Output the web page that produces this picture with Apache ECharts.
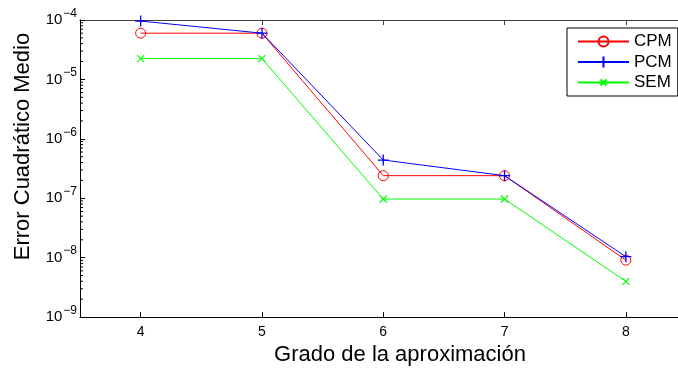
<!DOCTYPE html>
<html>
<head>
<meta charset="utf-8">
<script src="https://cdn.jsdelivr.net/npm/echarts@6/dist/echarts.min.js"></script>
<style>
html,body{margin:0;padding:0;background:#fff;}
#chart{width:678px;height:371px;}
</style>
</head>
<body>
<div id="chart"></div>
<script>
var grados = [4, 5, 6, 7, 8];
var cpm = [6.0e-5, 6.0e-5, 2.4e-7, 2.4e-7, 9.1e-9];
var pcm = [9.6e-5, 6.0e-5, 4.4e-7, 2.4e-7, 1.04e-8];
var sem = [2.24e-5, 2.24e-5, 9.7e-8, 9.7e-8, 4.0e-9];
var xTicks = [4, 5, 6, 7, 8];
var yMinorTicks = [];
for (var e = -9; e < -4; e++) {
  for (var m = 2; m <= 9; m++) yMinorTicks.push(m * Math.pow(10, e));
}

var FONT = "'Liberation Sans', Arial, sans-serif";
var RED = '#ff0000', BLUE = '#0000ff', GREEN = '#00ff00';
var CLEAR = 'rgba(0,0,0,0)';
var ICON_BOX = 'M0,0M51,12';
var ICON_CPM = 'path://' + ICON_BOX + 'M0,6L51,6M20.5,6A5,5,0,0,1,30.5,6A5,5,0,0,1,20.5,6';
var ICON_PCM = 'path://' + ICON_BOX + 'M0,6L51,6M25.5,0.5L25.5,11.5';
var ICON_SEM = 'path://' + ICON_BOX + 'M0,6L51,6M22.5,3L28.5,9M28.5,3L22.5,9';
function pairs(ys) { return grados.map(function (x, i) { return [x, ys[i]]; }); }

var chart = echarts.init(document.getElementById('chart'), null, {renderer: 'canvas'});
chart.setOption({
  backgroundColor: '#fff',
  animation: false,
  grid: {left: 80, top: 20, right: 0, height: 298, containLabel: false},
  legend: {
    data: [
      {name: 'CPM', icon: ICON_CPM},
      {name: 'PCM', icon: ICON_PCM},
      {name: 'SEM', icon: ICON_SEM}
    ],
    orient: 'vertical',
    left: 567, top: 28,
    padding: [5, 6, 5, 10],
    itemWidth: 51, itemHeight: 12, itemGap: 3.5,
    symbolKeepAspect: true,
    lineStyle: {width: 1},
    borderColor: '#000', borderWidth: 1, borderRadius: 0,
    backgroundColor: '#fff',
    textStyle: {fontFamily: FONT, fontSize: 17, color: '#000'}
  },
  xAxis: [{
    type: 'value', min: 3.5, max: 8.43,
    name: 'Grado de la aproximación', nameLocation: 'middle', nameGap: 22,
    nameTextStyle: {fontFamily: FONT, fontSize: 22, color: '#000', padding: [0, 0, 0, 42]},
    axisLine: {show: true, onZero: false, lineStyle: {color: '#000', width: 1}},
    axisTick: {show: true, inside: true, length: 5, customValues: xTicks, lineStyle: {color: '#000'}},
    axisLabel: {show: true, customValues: xTicks, margin: 8, fontFamily: FONT, fontSize: 14, color: '#000'},
    splitLine: {show: false}
  }, {
    type: 'value', min: 3.5, max: 8.43, position: 'top',
    axisLine: {show: true, onZero: false, lineStyle: {color: '#404040', width: 1}},
    axisTick: {show: true, inside: true, length: 5, customValues: xTicks, lineStyle: {color: '#404040'}},
    axisLabel: {show: false},
    splitLine: {show: false}
  }],
  yAxis: [{
    type: 'log', logBase: 10, min: 1e-9, max: 1e-4, interval: 1,
    name: 'Error Cuadrático Medio', nameLocation: 'middle', nameGap: 46,
    nameTextStyle: {fontFamily: FONT, fontSize: 22, color: '#000', padding: [0, 0, 0, 44]},
    axisLine: {show: true, onZero: false, lineStyle: {color: '#000', width: 1}},
    axisTick: {show: true, inside: true, length: 5, lineStyle: {color: '#000'}},
    axisLabel: {
      show: true, margin: 3,
      formatter: function (v) { return '{b|10}{s|\u2212' + Math.round(-Math.log10(v)) + '}'; },
      rich: {
        b: {fontFamily: FONT, fontSize: 15, color: '#000', lineHeight: 15, verticalAlign: 'bottom'},
        s: {fontFamily: FONT, fontSize: 12, color: '#000', lineHeight: 12, padding: [0, 0, 8, 1], verticalAlign: 'bottom'}
      }
    },
    splitLine: {show: false}
  }],
  series: [{
    name: 'CPM', type: 'line', data: pairs(cpm),
    symbol: 'circle', symbolSize: 10, showAllSymbol: true,
    lineStyle: {color: RED, width: 1},
    itemStyle: {color: CLEAR, borderColor: RED, borderWidth: 1},
    emphasis: {disabled: true}, z: 3
  }, {
    name: 'PCM', type: 'line', data: pairs(pcm),
    symbol: 'path://M0,5L10,5M5,0L5,10', symbolSize: 11, showAllSymbol: true,
    lineStyle: {color: BLUE, width: 1},
    itemStyle: {color: CLEAR, borderColor: BLUE, borderWidth: 1.3},
    emphasis: {disabled: true}, z: 4
  }, {
    name: 'SEM', type: 'line', data: pairs(sem),
    symbol: 'path://M0,0L10,10M10,0L0,10', symbolSize: 7, showAllSymbol: true,
    lineStyle: {color: GREEN, width: 1},
    itemStyle: {color: CLEAR, borderColor: GREEN, borderWidth: 1.2},
    emphasis: {disabled: true}, z: 5
  }, {
    name: 'minorTicks', type: 'custom', data: yMinorTicks.map(function (v) { return [3.5, v]; }),
    silent: true, clip: false, z: 1,
    renderItem: function (params, api) {
      var p = api.coord([3.5, api.value(1)]);
      return {type: 'line', shape: {x1: p[0], y1: p[1], x2: p[0] + 3, y2: p[1]}, style: {stroke: '#000', lineWidth: 1}};
    }
  }]
});
</script>
</body>
</html>
